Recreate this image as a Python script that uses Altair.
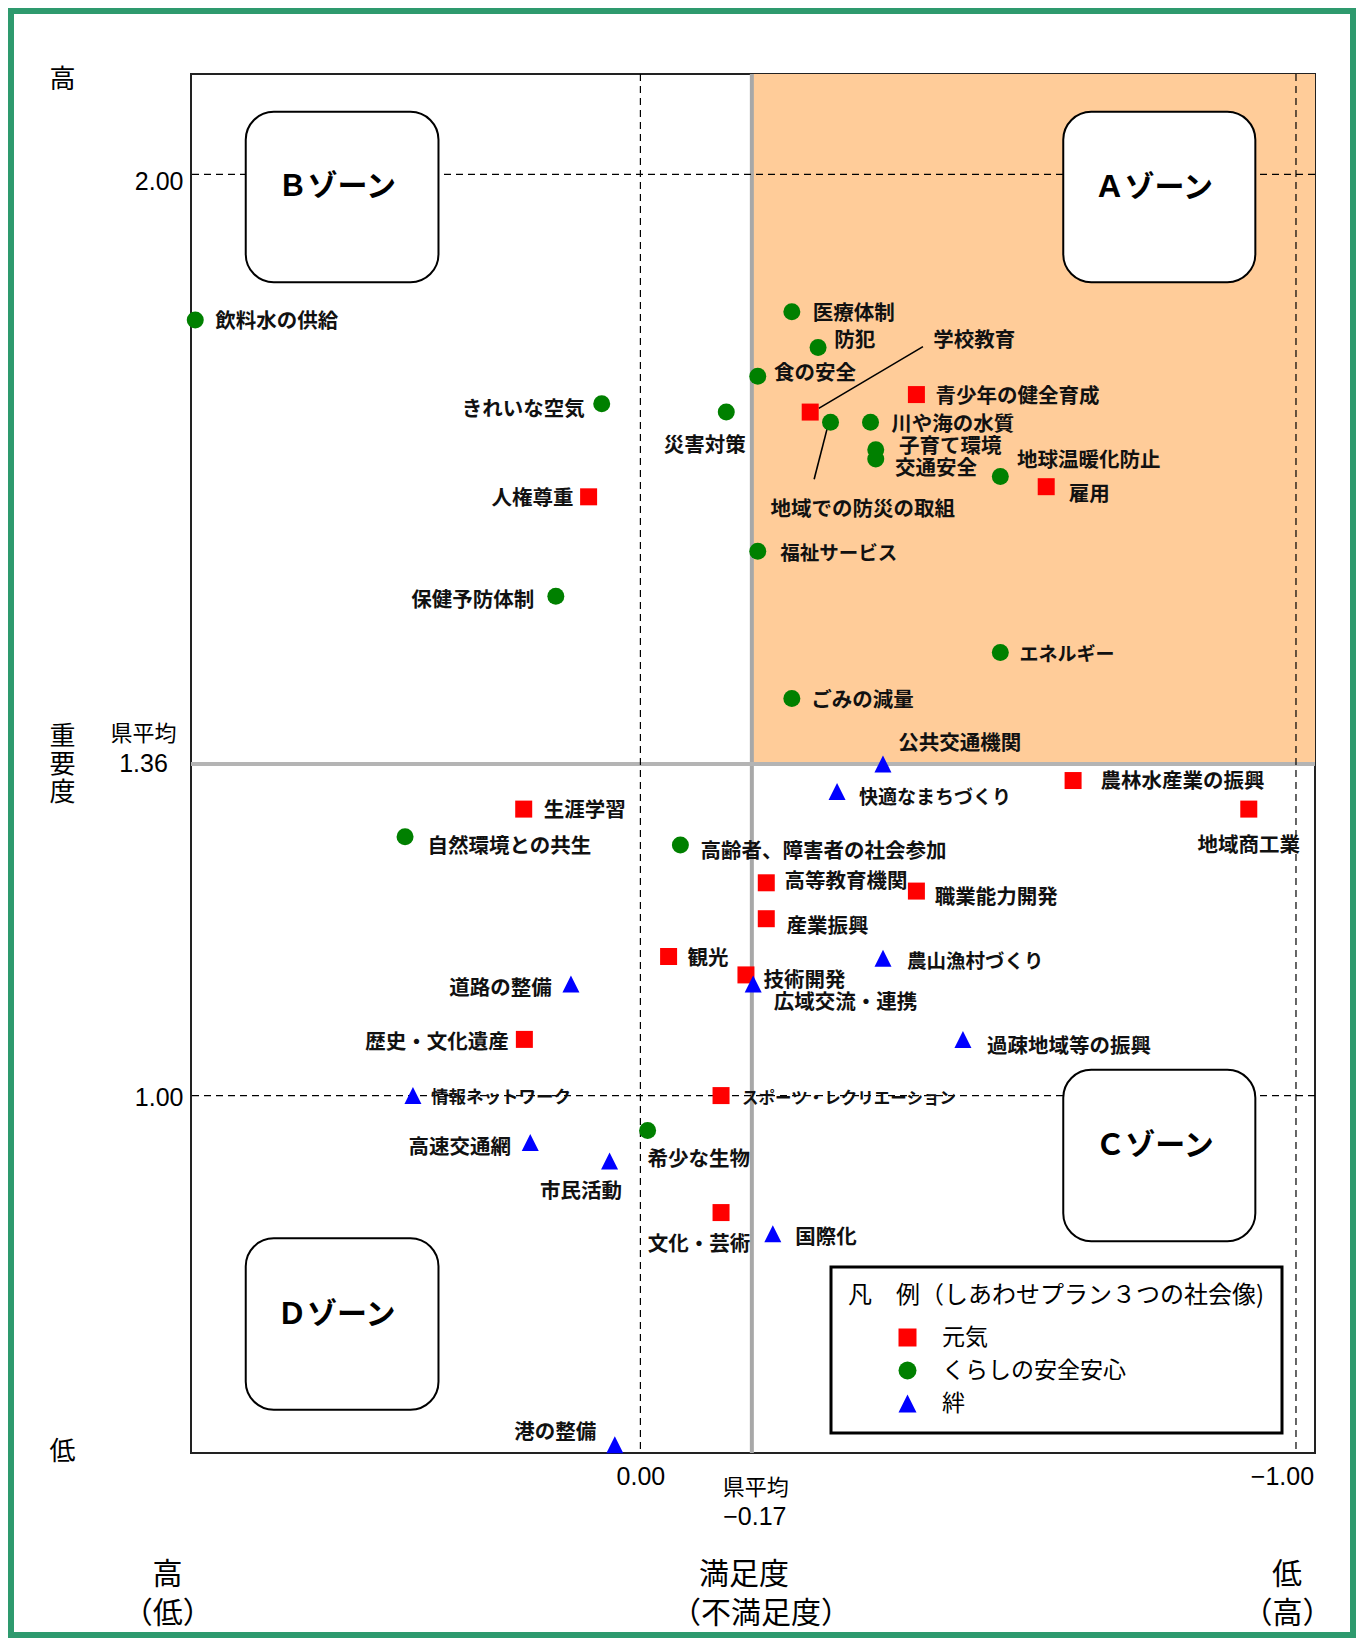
import altair as alt
import pandas as pd

JP = "Noto Sans CJK JP"
NUM = "Liberation Sans Narrow, Liberation Sans, Arial, sans-serif"

# ---------------- data ----------------
groups = ["元気", "くらしの安全安心", "絆"]
group_colors = ["#ff0000", "#008000", "#0000ff"]
group_shapes = ["square", "circle", "M0,-1L1,1L-1,1Z"]

genki_names = ["学校教育", "青少年の健全育成", "雇用", "人権尊重", "農林水産業の振興", "地域商工業",
               "生涯学習", "高等教育機関", "職業能力開発", "産業振興", "観光", "技術開発",
               "歴史・文化遺産", "スポーツ・レクリエーション", "文化・芸術"]
genki_sat = [-0.259, -0.421, -0.619, 0.079, -0.660, -0.928, 0.178, -0.192, -0.421, -0.192,
             -0.043, -0.161, 0.177, -0.123, -0.123]
genki_imp = [1.742, 1.761, 1.661, 1.650, 1.342, 1.311, 1.311, 1.231, 1.222, 1.192,
             1.151, 1.131, 1.061, 1.000, 0.873]

kurashi_names = ["飲料水の供給", "医療体制", "防犯", "食の安全", "きれいな空気", "災害対策",
                 "地域での防災の取組", "川や海の水質", "子育て環境", "交通安全", "地球温暖化防止",
                 "福祉サービス", "保健予防体制", "エネルギー", "ごみの減量", "自然環境との共生",
                 "高齢者、障害者の社会参加", "希少な生物"]
kurashi_sat = [0.679, -0.231, -0.271, -0.179, 0.059, -0.131, -0.290, -0.351, -0.359, -0.359,
               -0.549, -0.179, 0.129, -0.549, -0.231, 0.359, -0.061, -0.011]
kurashi_imp = [1.842, 1.851, 1.812, 1.781, 1.751, 1.742, 1.731, 1.731, 1.701, 1.691,
               1.672, 1.591, 1.542, 1.481, 1.431, 1.281, 1.272, 0.962]

kizuna_names = ["公共交通機関", "快適なまちづくり", "農山漁村づくり", "広域交流・連携", "道路の整備",
                "過疎地域等の振興", "情報ネットワーク", "高速交通網", "市民活動", "国際化", "港の整備"]
kizuna_sat = [-0.370, -0.300, -0.370, -0.172, 0.106, -0.492, 0.347, 0.168, 0.047, -0.202, 0.039]
kizuna_imp = [1.360, 1.330, 1.149, 1.121, 1.121, 1.061, 1.000, 0.949, 0.929, 0.850, 0.621]

pref_avg_sat = -0.17
pref_avg_imp = 1.36
x_domain = [0.6855, -1.029]
y_domain = [0.612, 2.109]
x_ticks = [0.0, -1.0]
y_ticks = [1.0, 2.0]

zone_names = ["Ａゾーン", "Ｂゾーン", "Ｃゾーン", "Ｄゾーン"]
zone_x1 = [-0.645, 0.602, -0.645, 0.602]
zone_x2 = [-0.938, 0.308, -0.938, 0.308]
zone_y1 = [1.883, 1.883, 0.842, 0.659]
zone_y2 = [2.068, 2.068, 1.028, 0.845]
zone_text_x = [-0.783, 0.463, -0.784, 0.464]
zone_text_y = [1.985, 1.986, 0.945, 0.762]

# leader lines (学校教育, 地域での防災の取組)
leader_x1 = [-0.272, -0.287]
leader_y1 = [1.746, 1.730]
leader_x2 = [-0.431, -0.265]
leader_y2 = [1.813, 1.669]

legend_title = "凡　例（しあわせプラン３つの社会像)"

# ---------------- label layout (pixel offsets from the symbol) ----------------
label_layout = {
    "学校教育": (123, -70.6, "left"), "青少年の健全育成": (19, 2, "left"), "雇用": (22.5, 8, "left"),
    "人権尊重": (-15, 2, "right"), "農林水産業の振興": (27.4, 1, "left"), "地域商工業": (0, 37, "center"),
    "生涯学習": (20, 2, "left"), "高等教育機関": (18.3, -1, "left"), "職業能力開発": (18.3, 6.6, "left"),
    "産業振興": (20.3, 8.3, "left"), "観光": (19, 2.6, "left"), "技術開発": (17.6, 5.7, "left"),
    "歴史・文化遺産": (-15.5, 3.3, "right"), "スポーツ・レクリエーション": (21, 3.3, "left"),
    "文化・芸術": (29.3, 32.3, "right"),
    "飲料水の供給": (20, 2, "left"), "医療体制": (21, 2.7, "left"), "防犯": (16.3, -6.6, "left"),
    "食の安全": (16.3, -1.7, "left"), "きれいな空気": (-17, 6.4, "right"), "災害対策": (19.5, 34.4, "right"),
    "地域での防災の取組": (-60, 87.3, "left"), "川や海の水質": (20.7, 2.3, "left"),
    "子育て環境": (23.3, -3.3, "left"), "交通安全": (19.3, 10, "left"), "地球温暖化防止": (16.7, -16, "left"),
    "福祉サービス": (22.4, 3, "left"), "保健予防体制": (-21.5, 5, "right"), "エネルギー": (19.3, 2.3, "left"),
    "ごみの減量": (19.3, 2.7, "left"), "自然環境との共生": (22.4, 10, "left"),
    "高齢者、障害者の社会参加": (20, 6.7, "left"), "希少な生物": (0, 29.3, "left"),
    "公共交通機関": (15.2, -19.7, "left"), "快適なまちづくり": (21.8, 6.3, "left"),
    "農山漁村づくり": (24, 3.7, "left"), "広域交流・連携": (20.6, 19.3, "left"),
    "道路の整備": (-19.2, 5.3, "right"), "過疎地域等の振興": (24, 7.3, "left"),
    "情報ネットワーク": (18, 2.5, "left"), "高速交通網": (-19.3, 5, "right"),
    "市民活動": (12.5, 31, "right"), "国際化": (22.3, 4.3, "left"), "港の整備": (-18.7, -11.7, "right"),
}
label_size = {"スポーツ・レクリエーション": 16.5, "情報ネットワーク": 17.5, "快適なまちづくり": 19,
              "農山漁村づくり": 19.5, "エネルギー": 19, "福祉サービス": 19.5}

# ---------------- tables ----------------
rows = []
for g, names, sats, imps in [(groups[0], genki_names, genki_sat, genki_imp),
                             (groups[1], kurashi_names, kurashi_sat, kurashi_imp),
                             (groups[2], kizuna_names, kizuna_sat, kizuna_imp)]:
    for n, s, i in zip(names, sats, imps):
        dx, dy, al = label_layout[n]
        rows.append({"name": n, "group": g, "sat": s, "imp": i, "dx": dx, "dy": dy,
                     "align": al, "fs": label_size.get(n, 20.5)})
points_df = pd.DataFrame(rows)

xs = alt.Scale(domain=x_domain, nice=False, zero=False)
ys = alt.Scale(domain=y_domain, nice=False, zero=False)
xa = alt.Axis(values=x_ticks, format=".2f", title=None, ticks=False, domain=False, grid=False,
              labelFont=NUM, labelFontSize=25, labelColor="black", labelPadding=11,
              labelOffset={"condition": {"test": "datum.value < -0.5", "value": -14}, "value": 0})
ya = alt.Axis(values=y_ticks, format=".2f", title=None, ticks=False, domain=False, grid=False,
              labelFont=NUM, labelFontSize=25, labelColor="black", labelPadding=8,
              labelOffset={"condition": {"test": "datum.value > 1.5", "value": 7}, "value": 2})


def xenc(f):
    return alt.X(f"{f}:Q", scale=xs, axis=xa)


def yenc(f):
    return alt.Y(f"{f}:Q", scale=ys, axis=ya)


orange = alt.Chart(pd.DataFrame({"x1": [pref_avg_sat], "x2": [x_domain[1]],
                                 "y1": [pref_avg_imp], "y2": [y_domain[1]]})).mark_rect(
    color="#FFCC99").encode(x=xenc("x1"), x2="x2", y=yenc("y1"), y2="y2")

gray_v = alt.Chart(pd.DataFrame({"v": [pref_avg_sat]})).mark_rule(color="#a8a8a8", strokeWidth=4).encode(x=xenc("v"))
gray_h = alt.Chart(pd.DataFrame({"v": [pref_avg_imp]})).mark_rule(color="#b4b4b4", strokeWidth=4).encode(y=yenc("v"))

dash_v = alt.Chart(pd.DataFrame({"v": x_ticks})).mark_rule(color="black", strokeWidth=1.2, strokeDash=[7, 5]).encode(x=xenc("v"))
dash_h = alt.Chart(pd.DataFrame({"v": y_ticks})).mark_rule(color="black", strokeWidth=1.2, strokeDash=[7, 5]).encode(y=yenc("v"))

zones_df = pd.DataFrame({"name": zone_names, "x1": zone_x1, "x2": zone_x2, "y1": zone_y1, "y2": zone_y2,
                         "lx": zone_text_x, "ly": zone_text_y})
zone_box = alt.Chart(zones_df).mark_rect(fill="white", stroke="black", strokeWidth=2, cornerRadius=28).encode(
    x=xenc("x1"), x2="x2", y=yenc("y1"), y2="y2")
zone_txt = alt.Chart(zones_df).mark_text(font=JP, fontSize=30, fontWeight="bold", color="black",
                                         baseline="middle").encode(x=xenc("lx"), y=yenc("ly"), text="name:N")

leaders = alt.Chart(pd.DataFrame({"x1": leader_x1, "y1": leader_y1, "x2": leader_x2, "y2": leader_y2})).mark_rule(
    color="black", strokeWidth=1.6).encode(x=xenc("x1"), y=yenc("y1"), x2="x2", y2="y2")

leg = alt.Legend(title=legend_title, orient="none", legendX=640, legendY=1193,
                 direction="vertical", titleFont=JP, titleFontSize=24, titleFontWeight="normal",
                 titleColor="black", titlePadding=18, titleLimit=700, labelFont=JP, labelFontSize=23,
                 labelColor="black", labelLimit=500, labelOffset=23, symbolSize=324, symbolOffset=48,
                 symbolStrokeWidth=0, rowPadding=9, padding=17, strokeColor="black", fillColor="white")

points = alt.Chart(points_df).mark_point(filled=True, opacity=1, size=289, strokeWidth=0).encode(
    x=xenc("sat"), y=yenc("imp"),
    color=alt.Color("group:N", scale=alt.Scale(domain=groups, range=group_colors), legend=leg),
    shape=alt.Shape("group:N", scale=alt.Scale(domain=groups, range=group_shapes), legend=leg),
)

labels = alt.Chart(points_df).mark_text(
    font=JP, fontWeight="bold", color="#111111", baseline="middle",
    dx={"expr": "datum.dx"}, dy={"expr": "datum.dy"}, align={"expr": "datum.align"},
    fontSize={"expr": "datum.fs"},
).encode(x=xenc("sat"), y=yenc("imp"), text="name:N")


def ptext(txt, px, py, size, font=JP, weight="normal"):
    return alt.Chart(pd.DataFrame({"t": [txt]})).mark_text(
        font=font, fontSize=size, fontWeight=weight, color="black", baseline="middle", align="center",
        lineHeight=28).encode(x=alt.value(px), y=alt.value(py), text="t:N")


# side / bottom annotations
avg_y_df = pd.DataFrame({"v": [pref_avg_imp], "t": [f"{pref_avg_imp:.2f}"]})
avg_y_num = alt.Chart(avg_y_df).mark_text(font=NUM, fontSize=25, color="black", baseline="middle").encode(
    x=alt.value(-47.5), y=yenc("v"), text="t:N")
avg_y_lbl = alt.Chart(avg_y_df).mark_text(font=JP, fontSize=22, color="black", baseline="middle", dy=-30,
                                          dx=1).encode(x=alt.value(-48.5), y=yenc("v"), text=alt.value("県平均"))
avg_x_df = pd.DataFrame({"v": [pref_avg_sat], "t": [f"{pref_avg_sat:.2f}".replace("-", "−")]})
avg_x_lbl = alt.Chart(avg_x_df).mark_text(font=JP, fontSize=22, color="black", baseline="middle", dx=4).encode(
    x=xenc("v"), y=alt.value(1414), text=alt.value("県平均"))
avg_x_num = alt.Chart(avg_x_df).mark_text(font=NUM, fontSize=25, color="black", baseline="middle", dx=3).encode(
    x=xenc("v"), y=alt.value(1443), text="t:N")

annots = [
    ptext("高", -128.5, 5.5, 26),
    ptext(["重", "要", "度"], -128.5, 663, 26),
    ptext("低", -128.5, 1378, 26),
    ptext("高", -23.4, 1501, 30),
    ptext("（低）", -23.2, 1540, 30),
    ptext("満足度", 553, 1501, 30),
    ptext("（不満足度）", 570, 1540, 30),
    ptext("低", 1096, 1501, 30),
    ptext("（高）", 1096.5, 1540, 30),
]

frame = alt.Chart(pd.DataFrame({"a": [0]})).mark_rect(fillOpacity=0, stroke="#2e9a6e", strokeWidth=6).encode(
    x=alt.value(-180), x2=alt.value(1162), y=alt.value(-63), y2=alt.value(1561))

chart = alt.layer(
    orange, gray_v, gray_h, dash_v, dash_h, zone_box, zone_txt, leaders, points, labels,
    avg_y_num, avg_y_lbl, avg_x_lbl, avg_x_num, *annots, frame,
).properties(
    width=1124, height=1379,
    padding={"left": 183, "top": 66, "right": 41, "bottom": 185},
    autosize=alt.AutoSizeParams(type="none"),
    background="white",
).configure_view(stroke="#222222", strokeWidth=2).configure_legend(strokeWidth=3)

chart.save("out.html", embed_options={"renderer": "svg", "actions": False})
